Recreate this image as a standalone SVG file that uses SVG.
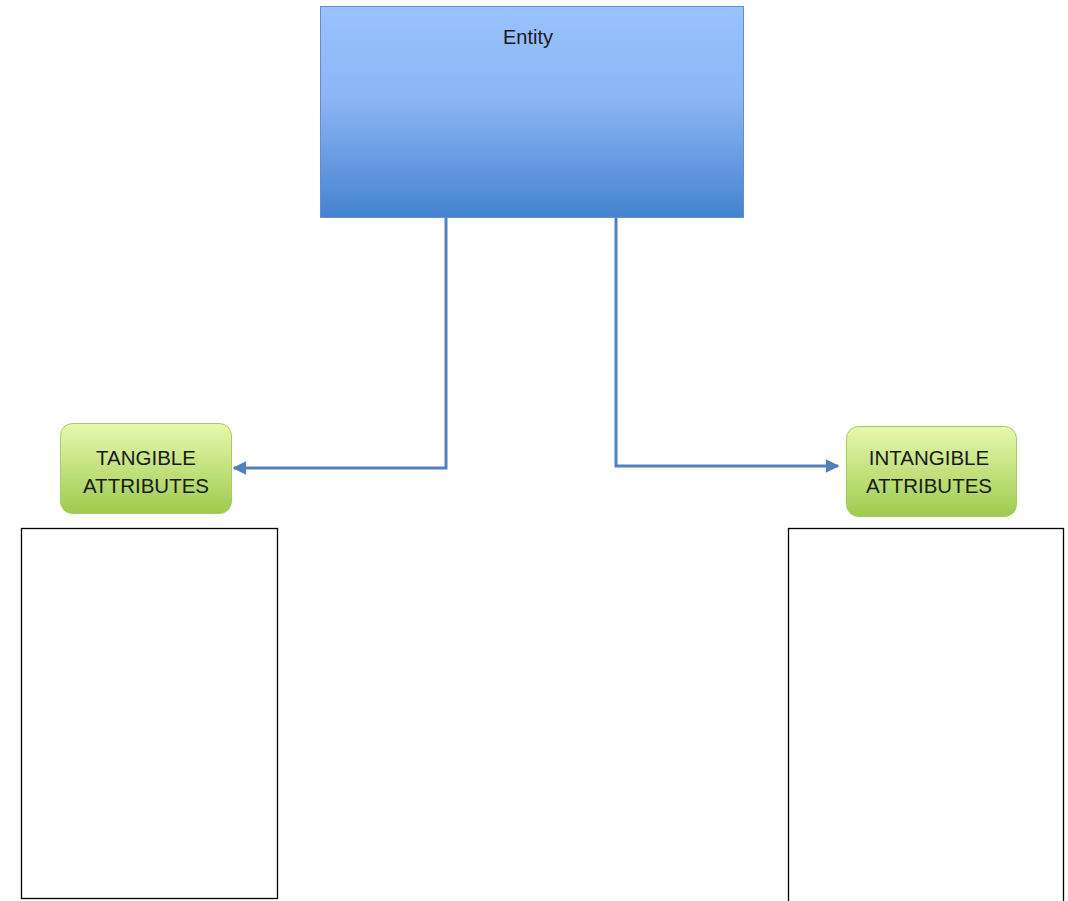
<svg xmlns="http://www.w3.org/2000/svg" width="1068" height="901" viewBox="0 0 1068 901">
<style>
text{font-family:"Liberation Sans",Arial,sans-serif;fill:#1a1a1a;text-anchor:middle}
.green{fill:url(#gg);stroke:#a9cc62;stroke-width:1}
.plain{fill:#fff;stroke:#000;stroke-width:1.3}
.conn{fill:none;stroke:#4f81bd;stroke-width:3}
</style>
<defs>
<linearGradient id="bg" x1="0" y1="0" x2="0" y2="1">
<stop offset="0" stop-color="#9ac2ff"/>
<stop offset="0.45" stop-color="#8ab4f4"/>
<stop offset="1" stop-color="#4682d0"/>
</linearGradient>
<linearGradient id="gg" x1="0" y1="0" x2="0" y2="1">
<stop offset="0" stop-color="#e8f9ae"/>
<stop offset="1" stop-color="#9dcb4e"/>
</linearGradient>
<marker id="ah" viewBox="0 0 10 10" refX="9" refY="5" markerWidth="4.5" markerHeight="4.5" orient="auto-start-reverse" markerUnits="strokeWidth">
<path d="M0,0 L10,5 L0,10 z" fill="#4f81bd"/>
</marker>
</defs>
<rect width="1068" height="901" fill="#fff"/>
<g id="connectors">
<path class="conn" d="M446,217 V468 H234" marker-end="url(#ah)"/>
<path class="conn" d="M616,217 V466 H838" marker-end="url(#ah)"/>
</g>
<g id="entity">
<rect x="320.5" y="6.5" width="423" height="211" fill="url(#bg)" stroke="#5f8fcc" stroke-width="1"/>
<text x="528" y="44" font-size="20">Entity</text>
</g>
<g id="tangible">
<rect class="green" x="60.5" y="423.5" width="171" height="90" rx="12"/>
<text x="146" y="465" font-size="20.5">TANGIBLE</text>
<text x="146" y="493" font-size="20.5">ATTRIBUTES</text>
</g>
<g id="intangible">
<rect class="green" x="846.5" y="426.5" width="170" height="90" rx="12"/>
<text x="929" y="465" font-size="20.5">INTANGIBLE</text>
<text x="929" y="493" font-size="20.5">ATTRIBUTES</text>
</g>
<g id="tangible-box">
<rect class="plain" x="21.5" y="528.5" width="256" height="370"/>
</g>
<g id="intangible-box">
<rect class="plain" x="788.5" y="528.5" width="275" height="380"/>
</g>
</svg>
